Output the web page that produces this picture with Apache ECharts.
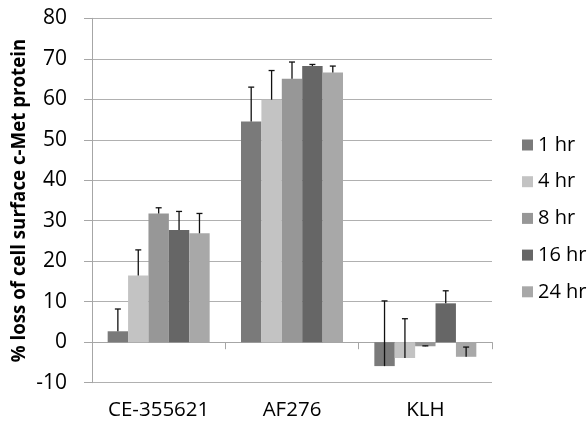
<!DOCTYPE html>
<html>
<head>
<meta charset="utf-8">
<script src="https://cdn.jsdelivr.net/npm/echarts@6/dist/echarts.min.js"></script>
<style>html,body{margin:0;padding:0;background:#fff;}#c{width:587px;height:428px;}</style>
</head>
<body>
<div id="c"></div>
<script>
const categories = ['CE-355621', 'AF276', 'KLH'];
const seriesNames = ['1 hr', '4 hr', '8 hr', '16 hr', '24 hr'];
const values1 = [2.7, 54.5, -5.9];
const values4 = [16.5, 59.9, -3.9];
const values8 = [31.8, 65.1, -1.0];
const values16 = [27.7, 68.2, 9.6];
const values24 = [26.9, 66.6, -3.6];
const errTop1 = [8.2, 63.0, 10.2];
const errTop4 = [22.8, 67.1, 5.8];
const errTop8 = [33.2, 69.2, -0.9];
const errTop16 = [32.3, 68.6, 12.7];
const errTop24 = [31.8, 68.2, -1.2];
const yTicks = [-10, 80, 10];

const colors = ['#7a7a7a', '#c3c3c3', '#979797', '#666666', '#a8a8a8'];
const allValues = [values1, values4, values8, values16, values24];
const allErr = [errTop1, errTop4, errTop8, errTop16, errTop24];
const gapRatio = 0.235;
const FONT = 'Open Sans';

const series = [];
allValues.forEach((vals, i) => {
  series.push({
    name: seriesNames[i], type: 'bar', xAxisIndex: 0,
    data: vals, barGap: '0%', barCategoryGap: (gapRatio * 100) + '%',
    itemStyle: { color: colors[i] }
  });
});
allValues.forEach((vals, si) => {
  series.push({
    type: 'custom', xAxisIndex: 0, z: 5, silent: true,
    data: vals.map((v, ci) => [ci, v, allErr[si][ci]]),
    encode: { x: 0, y: 1 },
    renderItem: function (params, api) {
      const ci = api.value(0), v = api.value(1), hi = api.value(2);
      const bandW = api.size([1, 0])[0];
      const grpW = bandW * (1 - gapRatio);
      const barW = grpW / 5;
      const cx = api.coord([ci, 0])[0] - grpW / 2 + barW * (si + 0.5);
      const y1 = api.coord([ci, v])[1];
      const y2 = api.coord([ci, hi])[1];
      const st = { stroke: '#111', lineWidth: 1.3 };
      return { type: 'group', children: [
        { type: 'line', shape: { x1: cx, y1: y1, x2: cx, y2: y2 }, style: st },
        { type: 'line', shape: { x1: cx - 3, y1: y2, x2: cx + 3, y2: y2 }, style: st }
      ]};
    }
  });
});

const chart = echarts.init(document.getElementById('c'));
chart.setOption({
  animation: false,
  color: colors,
  grid: { left: 92, right: 95, top: 18.3, bottom: 45.3 },
  legend: {
    data: seriesNames, orient: 'vertical', left: 517, top: 130,
    itemWidth: 11, itemHeight: 11, itemGap: 16.7, icon: 'rect',
    textStyle: { fontFamily: FONT, fontSize: 20, color: '#000', lineHeight: 20 }
  },
  xAxis: [
    { type: 'category', data: categories, position: 'bottom',
      axisLine: { onZero: true, lineStyle: { color: '#a6a6a6', width: 1 } },
      axisTick: { show: true, length: 7, lineStyle: { color: '#a6a6a6' } },
      axisLabel: { show: false }, splitLine: { show: false } },
    { type: 'category', data: categories, position: 'bottom',
      axisLine: { show: false }, axisTick: { show: false },
      axisLabel: { fontFamily: FONT, fontSize: 20.5, color: '#000', margin: 17 } }
  ],
  yAxis: {
    type: 'value', min: yTicks[0], max: yTicks[1], interval: yTicks[2],
    name: '% loss of cell surface c-Met protein', nameLocation: 'middle', nameGap: 63,
    nameMoveOverlap: false,
    nameTextStyle: { fontFamily: FONT, fontWeight: 'bold', fontSize: 18.7, color: '#000' },
    axisLine: { show: true, lineStyle: { color: '#a6a6a6' } },
    axisTick: { show: true, length: 8, lineStyle: { color: '#a6a6a6' } },
    axisLabel: { fontFamily: FONT, fontSize: 21, color: '#000', margin: 25 },
    splitLine: { lineStyle: { color: '#b0b0b0', width: 1 } }
  },
  series: series
});
</script>
</body>
</html>
